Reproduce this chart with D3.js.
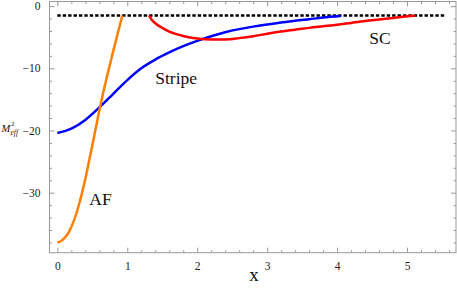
<!DOCTYPE html>
<html>
<head>
<meta charset="utf-8">
<script src="https://cdn.jsdelivr.net/npm/d3@7"></script>
<style>
  html, body { margin: 0; padding: 0; background: #fff; }
  svg { display: block; }
  .domain { display: none; }
  .tick line { stroke: #999; stroke-width: 1; }
</style>
</head>
<body>
<svg id="chart" width="457" height="292"></svg>
<script>
// curves
const afX = [0, 0.05, 0.1, 0.15, 0.2, 0.25, 0.3, 0.35, 0.4, 0.45, 0.5, 0.55, 0.6, 0.65, 0.7, 0.75, 0.8, 0.85, 0.9, 0.93];
const afY = [-38.0, -37.8, -37.3, -36.6, -35.5, -34.1, -32.3, -30.2, -27.8, -25.1, -22.4, -19.6, -16.8, -14.2, -11.8, -9.5, -7.2, -5.0, -2.8, -1.5];

const stripeX = [0, 0.2, 0.4, 0.6, 0.8, 1.0, 1.2, 1.4, 1.6, 1.8, 2.0, 2.2, 2.4, 2.6, 2.8, 3.0, 3.2, 3.4, 3.6, 3.8, 4.05];
const stripeY = [-20.4, -19.7, -18.3, -16.3, -14.1, -11.9, -10.0, -8.6, -7.45, -6.45, -5.6, -4.85, -4.2, -3.7, -3.3, -2.95, -2.65, -2.35, -2.1, -1.85, -1.6];

const scX = [1.31, 1.35, 1.4, 1.5, 1.6, 1.7, 1.8, 1.9, 2.0, 2.2, 2.4, 2.6, 2.8, 3.0, 3.2, 3.4, 3.6, 3.8, 4.0, 4.2, 4.4, 4.6, 4.8, 5.0, 5.12];
const scY = [-1.5, -2.2, -2.75, -3.5, -4.1, -4.5, -4.8, -5.05, -5.2, -5.35, -5.35, -5.15, -4.85, -4.45, -4.1, -3.8, -3.5, -3.25, -3.0, -2.7, -2.4, -2.15, -1.9, -1.65, -1.5];

const thresholdY = -1.5;
const thresholdX = [0, 5.56];

const xTicks = [0, 1, 2, 3, 4, 5];
const yTicks = [0, -10, -20, -30];

const SERIF = '"Liberation Serif", "Times New Roman", serif';

const svg = d3.select("#chart");
const padL = 49.5, padR = 456, padT = 1.5, padB = 252.7;

const x = d3.scaleLinear().domain([-0.112, 5.70]).range([padL, padR]);
const y = d3.scaleLinear().domain([-39.65, 0.74]).range([padB, padT]);

const xMinor = d3.range(0, 5.71, 0.2).filter((v) => !xTicks.some((t) => Math.abs(t - v) < 1e-6));
const yMinor = d3.range(0, -39.7, -2).filter((v) => !yTicks.some((t) => Math.abs(t - v) < 1e-6));

function fmt(d) {
  return d < 0 ? "\u2212" + Math.abs(d) : String(d);
}

// minor ticks first, majors on top
svg.append("g").attr("transform", `translate(0,${padB})`)
  .call(d3.axisBottom(x).tickValues(xMinor).tickSize(-2.5).tickFormat(""));
svg.append("g").attr("transform", `translate(0,${padT})`)
  .call(d3.axisTop(x).tickValues(xMinor).tickSize(-2.5).tickFormat(""));
svg.append("g").attr("transform", `translate(${padL},0)`)
  .call(d3.axisLeft(y).tickValues(yMinor).tickSize(-2.5).tickFormat(""));
svg.append("g").attr("transform", `translate(${padR},0)`)
  .call(d3.axisRight(y).tickValues(yMinor).tickSize(-2.5).tickFormat(""));

svg.append("g").attr("transform", `translate(0,${padB})`)
  .call(d3.axisBottom(x).tickValues(xTicks).tickSize(-5).tickPadding(9).tickFormat(fmt));
svg.append("g").attr("transform", `translate(0,${padT})`)
  .call(d3.axisTop(x).tickValues(xTicks).tickSize(-5).tickFormat(""));
svg.append("g").attr("transform", `translate(${padL},0)`)
  .call(d3.axisLeft(y).tickValues(yTicks).tickSize(-5).tickPadding(9).tickFormat(fmt));
svg.append("g").attr("transform", `translate(${padR},0)`)
  .call(d3.axisRight(y).tickValues(yTicks).tickSize(-5).tickFormat(""));

svg.selectAll(".tick text")
  .style("font-family", SERIF)
  .style("font-size", "11.5px")
  .attr("fill", "#222");

svg.append("rect")
  .attr("x", padL).attr("y", padT)
  .attr("width", padR - padL).attr("height", padB - padT)
  .attr("fill", "none").attr("stroke", "#999").attr("stroke-width", 1);

const line = d3.line()
  .x((d) => x(d[0]))
  .y((d) => y(d[1]))
  .curve(d3.curveMonotoneX);

const plot = svg.append("g");

plot.append("path")
  .datum(thresholdX.map((v) => [v, thresholdY]))
  .attr("d", line)
  .attr("fill", "none")
  .attr("stroke", "#000")
  .attr("stroke-width", 2.4)
  .attr("stroke-dasharray", "3.4,2");

const series = [
  { xs: stripeX, ys: stripeY, color: "#0000ff" },
  { xs: scX, ys: scY, color: "#ff0000" },
  { xs: afX, ys: afY, color: "#ff7f00" }
];

series.forEach((s) => {
  plot.append("path")
    .datum(s.xs.map((v, i) => [v, s.ys[i]]))
    .attr("d", line)
    .attr("fill", "none")
    .attr("stroke", s.color)
    .attr("stroke-width", 2.5)
    .attr("stroke-linecap", "butt");
});

function label(px, py, size, txt) {
  return svg.append("text")
    .attr("x", px).attr("y", py)
    .style("font-family", SERIF)
    .style("font-size", size + "px")
    .attr("fill", "#111")
    .text(txt);
}

// curve labels
label(x(1.4), y(-12.6), 17.5, "Stripe");
label(x(4.46), y(-6.1), 17.5, "SC");
label(x(0.457), y(-32.0), 17.5, "AF");

// axis titles
label(254, 281, 19, "x").attr("text-anchor", "middle");

label(1.5, 132, 10.5, "M").style("font-style", "italic");
label(11, 126, 7, "2");
label(10.5, 134.5, 7.5, "eff").style("font-style", "italic");
</script>
</body>
</html>
